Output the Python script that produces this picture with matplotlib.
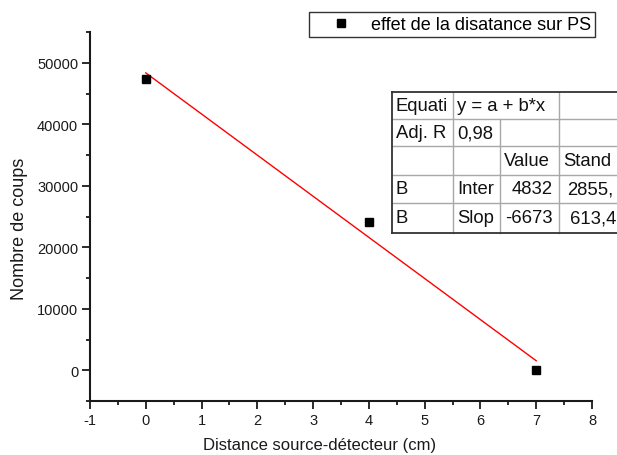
import numpy as np
import matplotlib
matplotlib.use("Agg")
import matplotlib.pyplot as plt
from matplotlib.lines import Line2D

plt.rcParams['font.family'] = ['Liberation Sans', 'DejaVu Sans']

# Data
distance = [0, 4, 7]
coups = [47280, 24100, 120]
series_label = "effet de la disatance sur PS"
xlabel = "Distance source-détecteur (cm)"
ylabel = "Nombre de coups"
xticks = [-1, 0, 1, 2, 3, 4, 5, 6, 7, 8]
yticks = [0, 10000, 20000, 30000, 40000, 50000]

table_rows = [
    ["Equati", "y = a + b*x", "", ""],
    ["Adj. R", "0,98", "", ""],
    ["", "", "Value", "Stand"],
    ["B", "Inter", "4832", "2855,"],
    ["B", "Slop", "-6673", "613,4"],
]

W, H = 617, 456
fig = plt.figure(figsize=(W / 100, H / 100), dpi=100)
ax = fig.add_axes([90 / W, 1 - 402 / H, (592 - 90) / W, (402 - 33) / H])

# scatter
ax.plot(distance, coups, ls='none', marker='s', ms=6, color='black',
        label=series_label, zorder=3)
# linear fit
b, a = np.polyfit(distance, coups, 1)
xf = np.array([min(distance), max(distance)])
ax.plot(xf, a + b * xf, color='red', lw=1, zorder=2)

ax.set_xlim(-1, 8)
ax.set_ylim(-5000, 55000)
ax.set_xticks(xticks)
ax.set_yticks(yticks)
ax.set_xticks(np.arange(-1, 8.01, 0.5), minor=True)
ax.set_yticks(np.arange(-5000, 55001, 5000), minor=True)
ax.set_xticklabels([str(t) for t in xticks], fontsize=10.5, color='#1a1a1a')
ax.set_yticklabels([str(t) for t in yticks], fontsize=10.5, color='#1a1a1a')

for s in ['top', 'right']:
    ax.spines[s].set_visible(False)
for s in ['left', 'bottom']:
    ax.spines[s].set_linewidth(1.5)
    ax.spines[s].set_color('#1a1a1a')

ax.tick_params(which='major', direction='out', length=5.5, width=1.3,
               color='#1a1a1a')
ax.tick_params(which='minor', direction='out', length=2.8, width=1.3,
               color='#1a1a1a')
ax.tick_params(axis='x', which='major', pad=3)
ax.tick_params(axis='y', which='major', pad=3)

ax.set_xlabel(xlabel, fontsize=12, color='#1a1a1a')
ax.set_ylabel(ylabel, fontsize=13, color='#1a1a1a')
ax.xaxis.label.set_va('center')
ax.yaxis.label.set_va('center')
ax.xaxis.set_label_coords((320 - 90) / 502, (402 - 446) / 369)
ax.yaxis.set_label_coords((20 - 90) / 502, (402 - 229) / 369)

# legend
leg = ax.legend(loc='center', bbox_to_anchor=(452 / W, 1 - 25.8 / H),
                bbox_transform=fig.transFigure, fontsize=13, frameon=True,
                fancybox=False, edgecolor='black', handlelength=3.2,
                handletextpad=0.05, borderpad=0.22, borderaxespad=0)
leg.get_frame().set_linewidth(1.0)
leg.set_zorder(5)

# table drawn in figure pixel coordinates
def fx(x):
    return x / W

def fy(y):
    return 1 - y / H

row_y = [93.3, 120, 147.3, 175.7, 204, 234]
col_x = [391.7, 453.3, 500, 559.3, 640]
gray = '#a8a8a8'

def hline(y, x0, x1, color, lw):
    fig.add_artist(Line2D([fx(x0), fx(x1)], [fy(y), fy(y)],
                          transform=fig.transFigure, color=color, lw=lw, zorder=4))

def vline(x, y0, y1, color, lw):
    fig.add_artist(Line2D([fx(x), fx(x)], [fy(y0), fy(y1)],
                          transform=fig.transFigure, color=color, lw=lw, zorder=4))

for y in row_y[1:-1]:
    hline(y, col_x[0], col_x[-1], gray, 1.0)
vline(col_x[1], row_y[0], row_y[-1], gray, 1.0)
vline(col_x[2], row_y[1], row_y[-1], gray, 1.0)
vline(col_x[3], row_y[0], row_y[-1], gray, 1.0)
hline(row_y[0], col_x[0], col_x[-1], '#333333', 1.3)
hline(row_y[-1], col_x[0], col_x[-1], '#333333', 1.3)
vline(col_x[0], row_y[0], row_y[-1], '#333333', 1.3)

extra_shift = {(3, 3): 3.5, (4, 3): 6.5}
for r, row in enumerate(table_rows):
    yc = (row_y[r] + row_y[r + 1]) / 2
    for c, txt in enumerate(row):
        if not txt:
            continue
        right = (c == 2 and r >= 3)
        if right:
            x = col_x[c + 1] - 7
            ha = 'right'
        else:
            x = col_x[c] + 4 + extra_shift.get((r, c), 0)
            ha = 'left'
        fig.text(fx(x), fy(yc), txt, ha=ha, va='center', fontsize=13.3,
                 color='#111111', zorder=6)

fig.savefig("out.png", dpi=100)
